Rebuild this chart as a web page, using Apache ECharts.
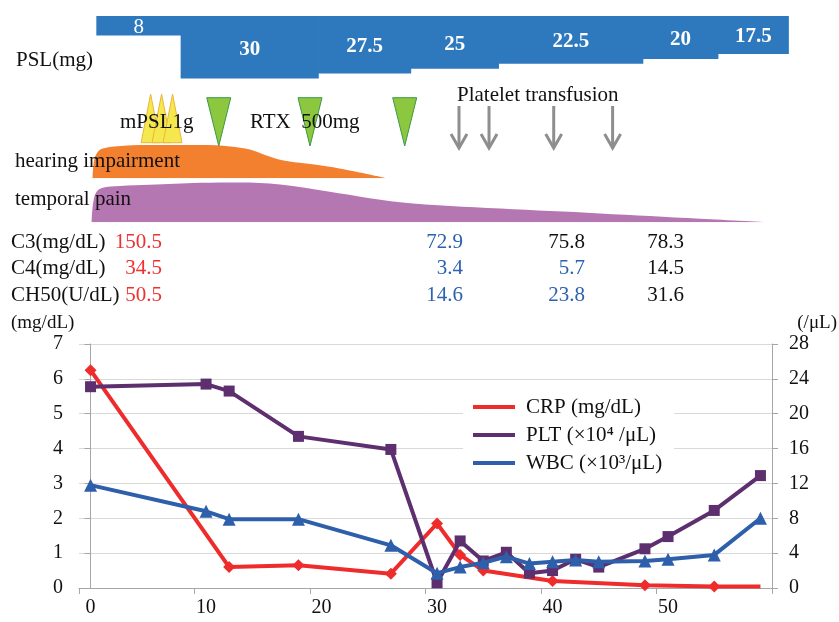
<!DOCTYPE html>
<html><head><meta charset="utf-8">
<script src="https://cdn.jsdelivr.net/npm/echarts@6/dist/echarts.min.js"></script>
<style>html,body{margin:0;padding:0;background:#fff}#c{width:839px;height:622px}</style>
</head><body><div id="c"></div>
<script>
// ---------------- data ----------------
const labDays   = [0,10,12,18,26,30,32,34,36,38,40,42,44,48,50,54,58];
const pltValues = [23.1,23.4,22.6,17.4,15.9,0.6,5.4,3.1,4.1,1.7,2.0,3.3,2.4,4.5,5.9,8.9,12.9];
const wbcValues = [11.8,8.8,7.9,7.9,4.9,1.7,2.4,2.9,3.6,2.8,3.0,3.2,3.0,3.1,3.3,3.8,8.0];
const crpDays   = [0,12,18,26,30,32,34,40,48,54,58];
const crpValues = [6.25,0.6,0.65,0.41,1.85,0.95,0.5,0.2,0.08,0.04,0.04];

const xTickLabels = [0,10,20,30,40,50];
const leftTicks  = [0,1,2,3,4,5,6,7];
const rightTicks = [0,4,8,12,16,20,24,28];

// PSL dose steps (mg) with start/end day
const pslStart = [0.5, 7.8, 19.7, 27.7, 35.3, 47.8, 54.3];
const pslEnd   = [7.8, 19.7, 27.7, 35.3, 47.8, 54.3, 60.4];
const pslDose  = [8, 30, 27.5, 25, 22.5, 20, 17.5];

const mpslDays = [5.2, 6.15, 7.1];          // mPSL 1g pulses
const rtxDays  = [11.1, 19.0, 27.2];        // RTX 500mg
const transfusionDays = [31.9, 34.5, 40.1, 45.2];

// symptom intensity (0-10)
const hearingDays  = [0.17, 0.29, 0.55, 0.98, 2.1, 5.1, 9.5, 12.1, 13.8, 15.1, 16.4, 18.1, 21.0, 25.65];
const hearingLevel = [0, 5, 7.3, 8.6, 9.3, 9.7, 9.7, 9.3, 8.4, 6.8, 5.4, 4.5, 3.2, 0];
const painDays  = [0.09, 0.2, 0.46, 0.98, 2.54, 5.14, 9.47, 12.9, 16.4, 20.7, 26.8, 35.5, 44.1, 52.8, 58.9];
const painLevel = [0, 4.3, 7.3, 8.5, 9.0, 9.3, 9.8, 9.9, 9.4, 7.6, 5.0, 3.4, 2.2, 0.9, 0];

// complement table
const complementNames = ['C3(mg/dL)', 'C4(mg/dL)', 'CH50(U/dL)'];
const c3Values   = ['150.5', '72.9', '75.8', '78.3'];
const c4Values   = ['34.5', '3.4', '5.7', '14.5'];
const ch50Values = ['50.5', '14.6', '23.8', '31.6'];

const seriesNames = ['CRP (mg/dL)', 'PLT (\u00d710\u2074 /\u03bcL)', 'WBC (\u00d710\u00b3/\u03bcL)'];

// ---------------- style / layout ----------------
const FF = 'Liberation Serif';
const RED = '#ee2c2c', PURPLE = '#5d2f6e', BLUE = '#2e5faa';
const AXIS = '#a6a6a6', GRIDC = '#d9d9d9';
const L = 79, R = 67;
const X_MIN = -1, X_MAX = 59;

const red = '#ee3030', blu = '#2d62b0', blk = '#111';
const tableColors = [
  [red, blu, blk, blk],
  [red, blu, blu, blk],
  [red, blu, blu, blk]
];
const colRight = [162, 463, 585, 684];
const rowY = [242, 268.5, 295];

function txt(text, x, y, opt) {
  opt = opt || {};
  return {
    type: 'text', x: x, y: y, z: 100, silent: true,
    style: {
      text: text,
      font: (opt.bold ? 'bold ' : '') + (opt.size || 21) + 'px "' + FF + '"',
      fill: opt.color || '#111',
      align: opt.align || 'left', textAlign: opt.align || 'left',
      verticalAlign: 'middle', textVerticalAlign: 'middle'
    }
  };
}

const graphics = [
  txt('PSL(mg)', 16, 60),
  txt('mPSL1g', 120, 122),
  txt('RTX  500mg', 250, 122),
  txt('Platelet transfusion', 457, 95),
  txt('hearing impairment', 15, 161),
  txt('temporal pain', 15, 199),
  txt('(mg/dL)', 11, 323, {size: 19}),
  txt('(/\u03bcL)', 837, 323, {size: 19, align: 'right'})
];
const tableRows = [c3Values, c4Values, ch50Values];
complementNames.forEach((n, i) => {
  graphics.push(txt(n, 11, rowY[i]));
  tableRows[i].forEach((v, j) => {
    graphics.push(txt(v, colRight[j], rowY[i], {align: 'right', color: tableColors[i][j]}));
  });
});

const crpData = crpDays.map((d, i) => {
  const item = {value: [d, crpValues[i]]};
  if (i === crpDays.length - 1) item.symbol = 'none';
  return item;
});

function hiddenX(gi) {
  return {type: 'value', gridIndex: gi, min: X_MIN, max: X_MAX, show: false};
}

const option = {
  animation: false,
  backgroundColor: '#fff',
  textStyle: {fontFamily: FF},
  grid: [
    {left: L, right: R, top: 344, bottom: 34},          // 0 main
    {left: L, right: R, top: 16, height: 80},           // 1 PSL
    {left: L, right: R, top: 94, height: 55},           // 2 events
    {left: L, right: R, top: 144, height: 34.3},        // 3 hearing
    {left: L, right: R, top: 182, height: 40.3}         // 4 pain
  ],
  xAxis: [
    {
      type: 'value', gridIndex: 0, min: X_MIN, max: X_MAX,
      axisLine: {show: true, lineStyle: {color: AXIS, width: 1}},
      axisTick: {show: true, length: 6, lineStyle: {color: AXIS}, customValues: [-1, 9, 19, 29, 39, 49, 59]},
      axisLabel: {customValues: xTickLabels, fontSize: 20, color: '#111', fontFamily: FF, margin: 10},
      splitLine: {show: false}
    },
    hiddenX(1), hiddenX(2), hiddenX(3), hiddenX(4)
  ],
  yAxis: [
    {
      type: 'value', gridIndex: 0, min: 0, max: 7, interval: 1, position: 'left',
      axisLine: {show: true, lineStyle: {color: AXIS}},
      axisTick: {show: true, length: 6, lineStyle: {color: AXIS}},
      axisLabel: {fontSize: 20, color: '#111', fontFamily: FF, margin: 16, customValues: leftTicks},
      splitLine: {show: true, lineStyle: {color: GRIDC, width: 1}}
    },
    {
      type: 'value', gridIndex: 0, min: 0, max: 28, interval: 4, position: 'right',
      axisLine: {show: true, lineStyle: {color: AXIS}},
      axisTick: {show: true, length: 6, lineStyle: {color: AXIS}},
      axisLabel: {fontSize: 20, color: '#111', fontFamily: FF, margin: 17, customValues: rightTicks},
      splitLine: {show: false}
    },
    {type: 'value', gridIndex: 1, min: -2, max: 39, inverse: true, show: false},
    {type: 'value', gridIndex: 2, min: 0, max: 1, show: false},
    {type: 'value', gridIndex: 3, min: 0, max: 10, show: false},
    {type: 'value', gridIndex: 4, min: 0, max: 10, show: false}
  ],
  legend: {
    show: true, orient: 'vertical', left: 463, top: 390,
    padding: [5, 12, 5, 10], itemGap: 4,
    backgroundColor: '#fff',
    icon: 'rect', itemWidth: 42, itemHeight: 4,
    selectedMode: false,
    textStyle: {fontSize: 21, color: '#111', fontFamily: FF, lineHeight: 24, padding: [0, 0, 0, 6]},
    data: seriesNames
  },
  graphic: graphics,
  series: [
    // symptom areas
    {
      type: 'line', xAxisIndex: 4, yAxisIndex: 5, silent: true,
      data: painDays.map((d, i) => [d, painLevel[i]]),
      smooth: 0.35, symbol: 'none',
      lineStyle: {width: 0}, areaStyle: {color: '#b577b2', opacity: 1}, z: 1
    },
    {
      type: 'line', xAxisIndex: 3, yAxisIndex: 4, silent: true,
      data: hearingDays.map((d, i) => [d, hearingLevel[i]]),
      smooth: 0.35, symbol: 'none',
      lineStyle: {width: 0}, areaStyle: {color: '#f2802f', opacity: 1}, z: 1
    },
    // PSL steps
    {
      type: 'custom', xAxisIndex: 1, yAxisIndex: 2, silent: true, clip: false,
      data: pslDose.map((d, i) => [pslStart[i], pslEnd[i], d]),
      renderItem: function (params, api) {
        const p0 = api.coord([api.value(0), -2]);
        const p1 = api.coord([api.value(1), api.value(2)]);
        return {
          type: 'rect',
          shape: {x: p0[0], y: p0[1], width: p1[0] - p0[0] + 0.7, height: p1[1] - p0[1]},
          style: {fill: '#2e79be'},
          textContent: {style: {text: String(api.value(2)), fill: '#fff',
            font: (params.dataIndex === 0 ? '' : 'bold ') + '21px "' + FF + '"'}},
          textConfig: {position: 'inside', offset: [0, 2]}
        };
      }
    },
    // mPSL pulses
    {
      type: 'custom', xAxisIndex: 2, yAxisIndex: 3, silent: true, clip: false, z: 3,
      data: mpslDays.map(d => [d]),
      renderItem: function (params, api) {
        const x = api.coord([api.value(0), 0])[0];
        const t = params.coordSys.y;
        return {type: 'polygon', shape: {points: [[x, t], [x - 9.5, t + 48.7], [x + 9.5, t + 48.7]]},
          style: {fill: '#f5e84e', stroke: '#ecb53a', lineWidth: 1}};
      }
    },
    // RTX
    {
      type: 'custom', xAxisIndex: 2, yAxisIndex: 3, silent: true, clip: false, z: 4,
      data: rtxDays.map(d => [d]),
      renderItem: function (params, api) {
        const x = api.coord([api.value(0), 0])[0];
        const t = params.coordSys.y;
        return {type: 'polygon', shape: {points: [[x - 12, t + 3.7], [x + 12, t + 3.7], [x, t + 52]]},
          style: {fill: '#8dc63f', stroke: '#3a9a46', lineWidth: 1}};
      }
    },
    // platelet transfusion arrows
    {
      type: 'custom', xAxisIndex: 2, yAxisIndex: 3, silent: true, clip: false, z: 4,
      data: transfusionDays.map(d => [d]),
      renderItem: function (params, api) {
        const x = api.coord([api.value(0), 0])[0];
        const t = params.coordSys.y;
        return {type: 'group', children: [
          {type: 'line', shape: {x1: x, y1: t + 12, x2: x, y2: t + 54},
            style: {stroke: '#8e8e8e', lineWidth: 3}},
          {type: 'polyline', shape: {points: [[x - 8, t + 40], [x, t + 54], [x + 8, t + 40]]},
            style: {stroke: '#8e8e8e', lineWidth: 3, fill: null}}
        ]};
      }
    },
    // main lines
    {
      name: seriesNames[0], type: 'line', xAxisIndex: 0, yAxisIndex: 0,
      data: crpData, symbol: 'diamond', symbolSize: 12,
      lineStyle: {color: RED, width: 4}, itemStyle: {color: RED}, z: 5
    },
    {
      name: seriesNames[1], type: 'line', xAxisIndex: 0, yAxisIndex: 1,
      data: labDays.map((d, i) => [d, pltValues[i]]), symbol: 'rect', symbolSize: 11,
      lineStyle: {color: PURPLE, width: 4}, itemStyle: {color: PURPLE}, z: 6
    },
    {
      name: seriesNames[2], type: 'line', xAxisIndex: 0, yAxisIndex: 1,
      data: labDays.map((d, i) => [d, wbcValues[i]]), symbol: 'triangle', symbolSize: 13,
      lineStyle: {color: BLUE, width: 4}, itemStyle: {color: BLUE}, z: 7
    }
  ]
};
const chart = echarts.init(document.getElementById('c'), null, {renderer: 'canvas'});
chart.setOption(option);
</script>
</body></html>
